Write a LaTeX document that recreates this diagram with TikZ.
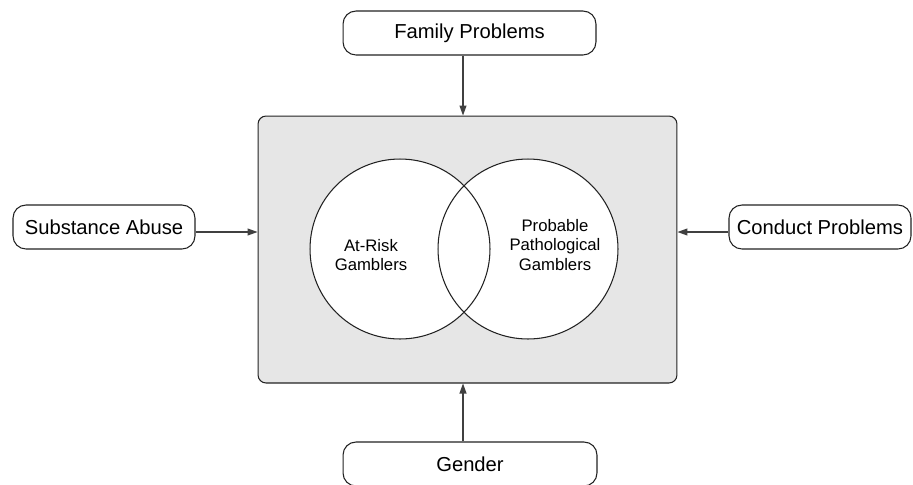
\documentclass[tikz,border=0pt]{standalone}
\usepackage{fontspec}
\setmainfont{Liberation Sans}
\usetikzlibrary{arrows.meta,backgrounds,positioning}
\definecolor{cinza}{HTML}{E6E6E6}
\definecolor{traco}{HTML}{222222}

\begin{document}
\begin{tikzpicture}[
  x=0.02cm,y=-0.02cm,
  fator/.style={draw=traco,rounded corners=0.26cm,fill=white,minimum height=0.88cm,
                line width=0.6pt,font=\fontsize{11.5}{14}\selectfont},
  grupo/.style={draw=traco,circle,minimum size=3.6cm,inner sep=0pt,line width=0.6pt},
  rotulo/.style={align=center,font=\fontsize{9.5}{11.3}\selectfont},
  arr/.style={-{Triangle[length=2mm,width=1.4mm]},line width=0.6pt,black!75}
]
  \useasboundingbox (0,0) rectangle (913,484);
  \node[fator,minimum width=5.06cm] (fam) at (469.5,33) {Family Problems};
  \node[fator,minimum width=3.64cm] (subst) at (104,227) {Substance Abuse};
  \node[fator,minimum width=3.64cm] (cond) at (820,227) {Conduct Problems};
  \node[fator,minimum width=5.08cm] (gend) at (470,464) {Gender};
  \node[grupo] (risk) at (400,249) {};
  \node[grupo] (path) at (528,249) {};
  \begin{scope}[on background layer]
    \node[draw=traco,fill=cinza,rounded corners=0.16cm,line width=0.6pt,
          minimum width=8.38cm,minimum height=5.34cm] (area) at (467.5,249.5) {};
    \fill[white] (risk.center) circle[radius=1.8cm] (path.center) circle[radius=1.8cm];
  \end{scope}
  \node[rotulo] (risklbl) at (371,255) {At-Risk\\Gamblers};
  \node[rotulo] (pathlbl) at (555,245) {Probable\\Pathological\\Gamblers};
  % ligacoes
  \coordinate (eixo) at (463,0);
  \coordinate (nivel) at (0,232);
  \draw[arr] (fam.south -| eixo) -- (area.north -| eixo);
  \draw[arr] (gend.north -| eixo) -- (area.south -| eixo);
  \draw[arr] (subst.east |- nivel) -- (area.west |- nivel);
  \draw[arr] (cond.west |- nivel) -- (area.east |- nivel);
\end{tikzpicture}
\end{document}
